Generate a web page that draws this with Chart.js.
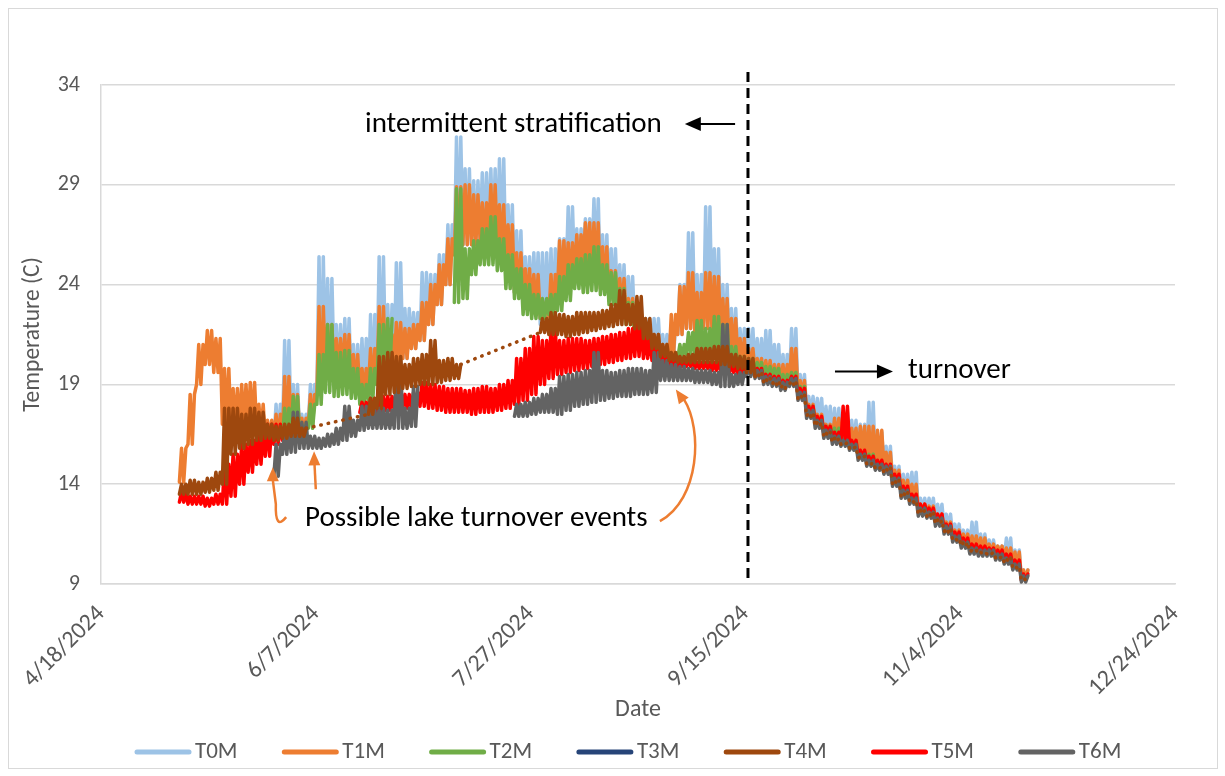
<!DOCTYPE html>
<html>
<head>
<meta charset="utf-8">
<script src="https://cdn.jsdelivr.net/npm/chart.js@4.4.1/dist/chart.umd.min.js"></script>
<style>
  body { margin: 0; background: #fff; }
  #wrap { position: relative; width: 1225px; height: 776px; }
</style>
</head>
<body>
<div id="wrap"><canvas id="myChart"></canvas></div>
<script>
// x axis = days since 4/18/2024, values read in 2-day windows starting at day 18
const dateTicks = ['4/18/2024', '6/7/2024', '7/27/2024', '9/15/2024', '11/4/2024', '12/24/2024'];
const seriesNames = ['T0M', 'T1M', 'T2M', 'T3M', 'T4M', 'T5M', 'T6M'];
const winStart = 18, winStep = 2;
const dividerDay = 150.6;
const t4mDotFrom = 152;
const _ = null;

// daily low / high inside each window
const t0Lo = [_,_,_,_,_,_,_,_,_,_,
  _,16.2,16.6,16.8,16.5,17.0,18.5,19.5,19.6,19.5,
  18.8,18.6,18.8,19.5,19.8,20.0,20.3,20.8,21.2,22.0,
  23.0,24.0,25.5,26.0,26.0,26.2,26.3,25.8,24.8,23.6,
  23.0,22.8,22.0,22.0,23.6,24.2,24.5,25.0,24.8,23.8,
  23.2,22.8,22.3,21.6,21.0,20.6,20.3,20.3,21.5,21.8,
  21.5,21.8,21.6,21.2,20.6,20.2,19.8,19.6,19.3,19.2,
  19.0,19.2,18.5,17.6,17.1,16.6,16.3,16.2,16.0,15.5,
  15.2,15.0,14.8,14.2,13.6,13.3,12.7,12.6,12.2,11.8,
  11.4,11.1,10.8,10.7,10.6,10.5,10.3,9.9,9.2];
const t0Hi = [_,_,_,_,_,_,_,_,_,_,
  _,18.0,21.2,19.0,17.5,19.0,25.4,24.3,22.0,22.3,
  21.0,21.3,22.5,25.4,23.0,25.1,22.8,22.6,24.6,24.5,
  25.5,27.0,31.4,29.8,29.2,29.6,29.8,30.3,28.0,26.7,
  25.4,25.6,25.6,25.8,26.3,27.9,26.8,27.3,28.3,26.5,
  25.8,25.0,24.4,23.0,22.3,22.3,21.5,22.0,24.0,26.6,
  24.5,27.9,25.8,24.0,22.8,21.8,21.8,21.3,21.7,21.0,
  20.5,21.8,19.5,18.4,18.3,17.9,17.8,17.6,17.2,17.0,
  18.1,16.6,15.9,14.9,14.5,14.6,13.3,13.3,13.0,12.5,
  12.0,11.7,12.1,11.5,11.2,10.9,11.3,10.7,9.7];

const t1Lo = [14.1,16.0,19.0,20.0,19.6,17.0,16.8,16.8,16.9,16.6,
  16.3,16.2,16.6,16.8,16.5,17.0,18.5,19.5,19.6,19.5,
  18.8,18.6,18.8,19.5,19.8,20.0,20.3,20.8,21.2,22.0,
  23.0,24.0,25.5,26.0,26.0,26.2,26.3,25.8,24.8,23.6,
  23.0,22.8,22.3,22.4,23.6,24.2,24.5,25.0,24.8,23.8,
  23.2,22.8,22.3,21.6,21.0,20.6,20.3,20.3,21.5,21.8,
  21.5,21.8,21.6,21.2,20.6,20.2,19.8,19.6,19.3,19.2,
  19.0,19.2,18.5,17.6,17.1,16.6,16.3,16.2,16.0,15.5,
  15.2,15.0,14.8,14.2,13.6,13.3,12.7,12.6,12.2,11.8,
  11.4,11.1,10.8,10.7,10.6,10.5,10.3,9.9,9.2];
const t1Hi = [15.8,18.5,21.0,21.7,21.3,19.8,18.8,19.0,19.1,18.0,
  17.2,17.5,19.4,18.5,17.3,18.5,22.9,22.0,21.3,21.5,
  20.5,19.8,20.8,22.9,21.5,22.1,21.8,22.0,23.1,24.0,
  25.0,26.3,28.9,29.0,28.5,28.1,29.0,28.0,27.0,25.6,
  24.8,24.5,23.2,24.5,26.2,26.1,26.5,27.1,27.1,25.9,
  24.7,24.3,23.3,22.6,21.9,21.5,21.0,22.5,23.9,24.6,
  23.6,24.6,24.4,23.3,22.3,21.3,20.8,20.3,20.2,20.0,
  20.0,20.8,19.2,18.0,17.5,17.0,17.3,17.3,16.8,16.9,
  16.9,16.7,15.6,14.7,14.2,14.0,13.0,12.9,12.5,12.1,
  11.7,11.5,11.4,11.3,11.0,10.9,10.8,10.6,9.7];

const t2Lo = [_,_,_,_,_,_,_,_,_,_,
  _,16.2,16.4,16.6,16.4,16.8,18.0,18.6,18.4,18.5,
  18.3,18.0,18.2,19.0,19.6,_,_,_,_,_,
  _,_,23.1,23.3,24.5,25.0,25.0,24.7,23.8,23.3,
  22.5,22.3,22.3,22.5,22.7,23.2,23.8,23.6,23.7,23.5,
  23.0,22.5,22.0,21.3,20.7,20.5,20.3,20.2,20.3,20.5,
  20.5,20.4,20.4,20.2,20.0,19.8,19.6,19.5,19.3,19.2,
  19.0,19.1,18.5,17.6,17.1,16.6,16.3,16.1,15.9,15.4,
  15.1,14.9,_,_,_,_,_,_,_,_,
  _,_,_,_,_,_,_,_,_];
const t2Hi = [_,_,_,_,_,_,_,_,_,_,
  _,16.8,17.8,18.4,17.0,18.0,20.5,22.0,20.6,20.7,
  19.8,19.0,19.8,22.0,22.3,_,_,_,_,_,
  _,_,28.8,25.8,26.2,26.8,27.4,26.3,25.5,24.8,
  24.0,23.5,23.3,23.5,24.4,25.0,25.3,25.5,25.9,25.0,
  24.6,23.8,23.1,22.6,21.6,21.1,20.7,20.5,21.0,21.6,
  22.2,21.8,22.4,22.0,20.9,20.4,20.3,20.1,19.9,19.8,
  19.5,19.6,18.9,17.9,17.3,16.9,16.8,16.5,16.1,15.6,
  15.5,15.1,_,_,_,_,_,_,_,_,
  _,_,_,_,_,_,_,_,_];

// T3M has no readings in the plot
const t3Lo = [];
const t3Hi = [];

const t4Lo = [13.5,13.5,13.5,13.6,13.7,14.0,15.5,15.8,16.0,16.2,
  16.3,16.2,16.3,16.4,16.4,_,_,_,_,_,
  _,_,17.5,17.8,18.5,18.6,18.8,18.9,19.0,19.0,
  19.1,19.2,19.3,_,_,_,_,_,_,_,
  _,_,21.6,21.5,21.5,21.4,21.5,21.6,21.7,21.8,
  21.9,22.0,22.0,21.8,21.3,20.8,20.4,20.2,20.1,20.1,
  20.1,20.1,20.1,20.0,19.9,19.8,19.6,19.4,19.1,19.0,
  18.8,19.0,18.3,17.4,16.9,16.4,16.1,16.0,15.8,15.3,
  15.0,14.8,14.6,14.0,13.4,13.1,12.5,12.4,12.0,11.6,
  11.2,10.9,10.6,10.5,10.5,10.3,10.1,9.8,9.2];
const t4Hi = [14.0,14.2,14.1,14.3,14.6,17.8,17.8,17.5,17.8,17.6,
  17.0,16.9,17.0,17.3,16.8,_,_,_,_,_,
  _,_,18.3,20.4,20.6,20.4,20.0,20.3,20.5,21.2,
  20.2,20.3,20.0,_,_,_,_,_,_,_,
  _,_,22.3,22.6,22.5,22.4,22.6,22.6,22.6,22.7,
  23.0,23.7,23.0,23.4,22.3,21.5,21.0,20.6,20.4,20.5,
  20.8,20.8,20.9,20.9,20.5,20.4,20.3,19.6,19.3,19.2,
  19.0,19.2,18.5,17.6,17.1,16.6,16.3,16.1,15.9,15.4,
  15.1,14.9,14.8,14.2,13.6,13.2,12.7,12.6,12.2,11.8,
  11.3,11.1,10.7,10.6,10.6,10.4,10.3,9.9,9.3];

const t5Lo = [13.1,13.0,13.0,12.9,13.0,13.0,13.4,14.0,14.6,15.0,
  15.4,16.0,16.2,_,_,_,_,_,_,_,
  _,17.6,17.6,17.6,17.7,17.7,17.8,17.8,17.9,17.8,
  17.7,17.6,17.6,17.6,17.5,17.6,17.6,17.7,17.8,18.0,
  18.2,18.5,19.0,19.3,19.5,19.6,19.7,19.8,19.9,20.0,
  20.1,20.2,20.3,20.4,20.3,20.2,20.0,19.9,19.9,19.9,
  19.8,19.8,19.7,19.7,19.6,19.5,19.5,19.5,19.2,19.1,
  18.9,19.1,18.4,17.5,17.0,16.5,16.2,16.1,15.9,15.4,
  15.1,14.9,14.7,14.1,13.5,13.2,12.6,12.5,12.1,11.7,
  11.3,11.0,10.7,10.6,10.6,10.4,10.2,9.9,9.2];
const t5Hi = [13.6,13.4,13.4,13.3,13.5,15.0,15.5,16.0,16.2,16.6,
  17.0,17.0,16.9,_,_,_,_,_,_,_,
  _,18.1,18.3,18.4,18.4,18.5,18.5,18.6,19.1,19.0,
  18.9,18.8,18.8,18.7,18.8,18.9,18.8,19.0,19.2,20.3,
  20.8,21.4,21.2,21.8,21.2,21.3,21.3,21.2,21.3,21.4,
  21.5,21.6,21.8,22.1,21.4,21.0,20.7,20.3,20.2,20.2,
  20.1,20.1,20.1,20.0,20.0,19.9,19.9,19.8,19.5,19.4,
  19.2,19.4,18.8,17.9,17.4,16.9,16.6,17.9,16.2,15.7,
  15.4,15.2,15.0,14.5,13.9,13.5,13.0,12.8,12.5,12.0,
  11.6,11.3,11.0,10.9,10.8,10.7,10.5,10.2,9.5];

const t6Lo = [_,_,_,_,_,_,_,_,_,_,
  _,14.4,15.5,15.6,15.8,15.8,15.8,15.9,16.0,16.2,
  16.4,16.7,16.8,16.8,16.8,16.8,16.8,16.9,_,_,
  _,_,_,_,_,_,_,_,_,17.4,
  17.4,17.5,17.6,17.6,17.5,17.7,17.9,18.0,18.1,18.2,
  18.3,18.4,18.4,18.5,18.5,18.6,19.2,19.2,19.2,19.2,
  19.1,19.1,19.0,18.9,18.9,19.0,19.4,19.3,19.0,18.9,
  18.7,18.9,18.2,17.3,16.8,16.3,16.0,15.9,15.7,15.2,
  14.9,14.7,14.5,13.9,13.3,13.0,12.4,12.3,11.9,11.5,
  11.1,10.8,10.5,10.4,10.4,10.2,10.0,9.7,9.1];
const t6Hi = [_,_,_,_,_,_,_,_,_,_,
  _,16.0,16.8,17.6,17.1,16.4,16.3,16.5,16.8,17.9,
  17.2,17.9,17.7,17.8,17.7,20.2,17.8,18.9,_,_,
  _,_,_,_,_,_,_,_,_,18.0,
  18.1,18.3,18.5,18.8,19.4,19.5,19.6,19.7,20.6,19.7,
  19.6,19.7,19.8,19.8,19.7,20.6,20.2,20.0,19.9,19.8,
  19.7,19.7,19.6,22.0,19.5,19.6,20.0,19.7,19.4,19.3,
  19.1,19.3,18.6,17.7,17.2,16.7,16.4,16.2,16.0,15.5,
  15.2,15.0,14.9,14.3,13.7,13.3,12.8,12.6,12.3,11.9,
  11.4,11.1,10.8,10.7,10.7,10.5,10.3,10.0,9.4];

const colors = ['#9dc3e6', '#ed7d31', '#70ad47', '#264478', '#9e480e', '#ff0000', '#636363'];

// low/high swing twice inside each 2-day window (one swing per day)
function toPoints(lo, hi) {
  const pts = [];
  lo.forEach((v, k) => {
    const d = winStart + winStep * k;
    pts.push({ x: d + 0.25, y: v });
    pts.push({ x: d + 0.75, y: hi[k] });
    pts.push({ x: d + 1.25, y: v });
    pts.push({ x: d + 1.75, y: hi[k] });
  });
  return pts;
}

const lows = [t0Lo, t1Lo, t2Lo, t3Lo, t4Lo, t5Lo, t6Lo];
const highs = [t0Hi, t1Hi, t2Hi, t3Hi, t4Hi, t5Hi, t6Hi];
const drawOrder = [6, 5, 4, 3, 0, 2, 1];

const datasets = seriesNames.map((name, i) => ({
  label: name,
  data: toPoints(lows[i], highs[i]),
  borderColor: colors[i],
  backgroundColor: colors[i],
  order: drawOrder[i],
  spanGaps: name === 'T4M'
}));
datasets[4].segment = {
  borderDash: c => (c.p0.skip || c.p1.skip || c.p0.parsed.x >= t4mDotFrom) ? [0.5, 7] : undefined
};

const font = 'Carlito, Calibri, Lato, sans-serif';
Chart.defaults.font.family = font;

function arrowHead(ctx, tx, ty, fx, fy, len, half, color) {
  const a = Math.atan2(ty - fy, tx - fx);
  ctx.fillStyle = color;
  ctx.beginPath();
  ctx.moveTo(tx, ty);
  ctx.lineTo(tx - len * Math.cos(a) + half * Math.sin(a), ty - len * Math.sin(a) - half * Math.cos(a));
  ctx.lineTo(tx - len * Math.cos(a) - half * Math.sin(a), ty - len * Math.sin(a) + half * Math.cos(a));
  ctx.closePath();
  ctx.fill();
}

const notes = {
  id: 'notes',
  beforeDraw(chart) {
    const ctx = chart.ctx;
    ctx.save();
    ctx.fillStyle = '#fff';
    ctx.fillRect(0, 0, chart.width, chart.height);
    ctx.restore();
  },
  afterDraw(chart) {
    const { ctx, chartArea } = chart;
    const px = d => chart.scales.x.getPixelForValue(d);
    const py = v => chart.scales.y.getPixelForValue(v);
    ctx.save();

    // chart frame
    ctx.strokeStyle = '#d9d9d9';
    ctx.lineWidth = 1;
    ctx.strokeRect(8.5, 8.5, 1209, 760);

    // stratification / turnover divider
    ctx.strokeStyle = '#000';
    ctx.lineWidth = 3;
    ctx.setLineDash([10, 6]);
    ctx.beginPath();
    ctx.moveTo(px(dividerDay), chartArea.top - 13);
    ctx.lineTo(px(dividerDay), chartArea.bottom);
    ctx.stroke();
    ctx.setLineDash([]);

    ctx.fillStyle = '#000';
    ctx.font = '29px ' + font;
    ctx.textBaseline = 'middle';
    ctx.textAlign = 'left';
    ctx.fillText('intermittent stratification', px(61.45), py(32.0));
    ctx.fillText('turnover', px(187.85), py(19.7));
    ctx.fillText('Possible lake turnover events', px(47.5), py(12.25));

    ctx.lineWidth = 2;
    ctx.strokeStyle = '#000';
    ctx.beginPath();
    ctx.moveTo(px(147.6), py(32.05));
    ctx.lineTo(px(139.3), py(32.05));
    ctx.stroke();
    arrowHead(ctx, px(135.9), py(32.05), px(147.6), py(32.05), 16, 7, '#000');
    ctx.beginPath();
    ctx.moveTo(px(170.85), py(19.65));
    ctx.lineTo(px(181), py(19.65));
    ctx.stroke();
    arrowHead(ctx, px(184.35), py(19.65), px(170.85), py(19.65), 16, 7, '#000');

    // orange pointers
    const orange = '#ed7d31';
    ctx.strokeStyle = orange;
    ctx.lineWidth = 2.5;
    ctx.beginPath();
    ctx.moveTo(px(43.1), py(12.35));
    ctx.quadraticCurveTo(px(40.5), py(11.65), px(40.7), py(13.0));
    ctx.lineTo(px(40.0), py(14.2));
    ctx.stroke();
    arrowHead(ctx, px(40.0), py(14.85), px(40.0), py(14.0), 14, 6, orange);

    ctx.beginPath();
    ctx.moveTo(px(50.0), py(13.75));
    ctx.lineTo(px(49.7), py(15.0));
    ctx.stroke();
    arrowHead(ctx, px(49.6), py(15.65), px(49.7), py(14.5), 14, 6, orange);

    ctx.beginPath();
    ctx.moveTo(px(130.1), py(12.15));
    ctx.bezierCurveTo(px(139.4), py(13.25), px(140.1), py(16.75), px(135.7), py(18.25));
    ctx.stroke();
    arrowHead(ctx, px(133.8), py(18.75), px(135.9), py(18.1), 14, 6, orange);

    // legend
    ctx.font = '23px ' + font;
    ctx.textBaseline = 'middle';
    ctx.lineCap = 'round';
    seriesNames.forEach((name, i) => {
      const lx = 137 + i * 147.3;
      const ly = 752;
      ctx.strokeStyle = colors[i];
      ctx.lineWidth = 5;
      ctx.beginPath();
      ctx.moveTo(lx, ly);
      ctx.lineTo(lx + 52, ly);
      ctx.stroke();
      ctx.fillStyle = '#595959';
      ctx.fillText(name, lx + 58, ly);
    });
    ctx.restore();
  }
};

const ctx = document.getElementById('myChart');

new Chart(ctx, {
  type: 'line',
  data: { datasets: datasets },
  options: {
    responsive: true,
    maintainAspectRatio: false,
    animation: false,
    layout: { padding: { top: 85, right: 50, bottom: 49, left: 15 } },
    elements: {
      point: { radius: 0 },
      line: { borderWidth: 3.5, tension: 0, borderJoinStyle: 'round', borderCapStyle: 'round' }
    },
    plugins: {
      legend: { display: false },
      tooltip: { enabled: false }
    },
    scales: {
      x: {
        type: 'linear',
        min: 0,
        max: 250,
        afterFit: s => { s.height = 143; },
        grid: { display: false },
        border: { display: true, color: '#d9d9d9', width: 1.5 },
        ticks: {
          stepSize: 50,
          minRotation: 45,
          maxRotation: 45,
          padding: 8,
          color: '#595959',
          font: { size: 24 },
          callback: v => dateTicks[Math.round(v / 50)]
        },
        title: {
          display: true,
          text: 'Date',
          color: '#595959',
          font: { size: 24 },
          padding: { top: 4, bottom: 3 }
        }
      },
      y: {
        min: 9,
        max: 34,
        afterFit: s => { s.width = 86; },
        grid: { color: '#d9d9d9', lineWidth: 1.5, drawTicks: false },
        border: { display: true, color: '#d9d9d9', width: 1.5 },
        ticks: {
          stepSize: 5,
          padding: 21,
          color: '#595959',
          font: { size: 22 }
        },
        title: {
          display: true,
          text: 'Temperature (C)',
          color: '#595959',
          font: { size: 23.5 },
          padding: { top: 4, bottom: 4 }
        }
      }
    }
  },
  plugins: [notes]
});
</script>
</body>
</html>
